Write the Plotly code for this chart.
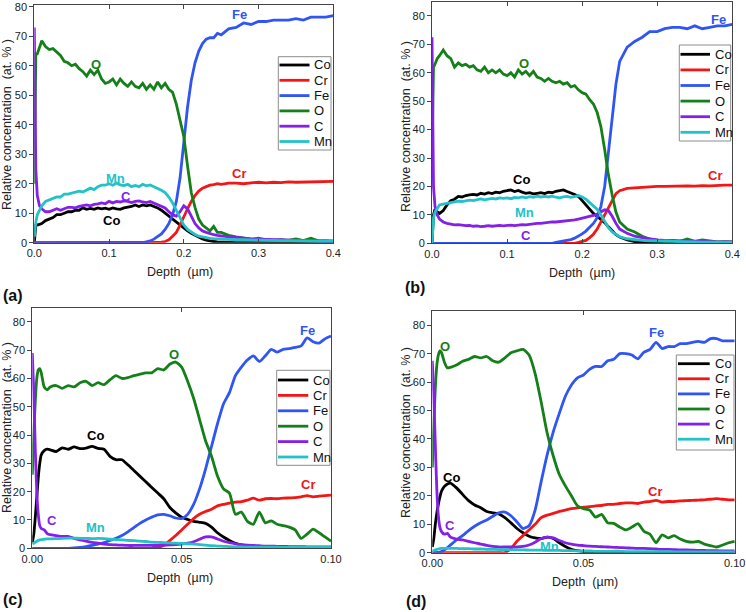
import plotly.graph_objects as go

# ---------------- data ----------------
ELEMENTS = ["Co", "Cr", "Fe", "O", "C", "Mn"]

# panel (a)
A_DEPTH = [0, 0.001, 0.002, 0.004, 0.007, 0.01, 0.015, 0.02,
           0.025, 0.03, 0.035, 0.04, 0.045, 0.05, 0.055, 0.06, 0.065, 0.07,
           0.075, 0.08, 0.085, 0.09, 0.095, 0.1, 0.105, 0.11, 0.115, 0.12,
           0.125, 0.13, 0.135, 0.14, 0.145, 0.15, 0.155, 0.16, 0.165, 0.17,
           0.175, 0.18, 0.185, 0.19, 0.195, 0.2, 0.205, 0.21, 0.215, 0.22,
           0.225, 0.23, 0.235, 0.24, 0.245, 0.25,
           0.26, 0.27, 0.28, 0.29, 0.3, 0.31, 0.32, 0.33, 0.34, 0.35,
           0.36, 0.37, 0.38, 0.39, 0.4]
A_O = [20, 55, 64, 64, 66, 68.5, 66.5, 65.5,
       65.8, 64.5, 63.5, 61.5, 61, 60, 60.5, 59, 58, 56.5,
       58.5, 57, 58.5, 55.5, 54, 54.5, 55.5, 53.5, 55.5, 54,
       53, 54.5, 53, 52.5, 54, 52, 53.5, 52, 54.5, 52.5,
       54, 52, 51, 47, 42, 36, 26, 17, 12, 8,
       6, 5, 4, 5.5, 3.5, 3.5,
       2.5, 2, 1.5, 1.2, 1.5, 1, 0.8, 1, 0.8, 1.3,
       0.7, 1.5, 0.6, 0.7, 0.5]
A_FE = [0, 0, 0, 0, 0, 0, 0, 0,
        0, 0, 0, 0, 0, 0, 0, 0, 0, 0,
        0, 0, 0, 0, 0, 0, 0, 0, 0, 0,
        0, 0, 0, 0, 0, 0.3, 0.6, 1.2, 2, 3,
        4.5, 6.5, 9.5, 14, 22, 34, 46, 55, 61, 65,
        67.5, 69, 69.5, 69.5, 71, 70.5,
        72.5, 73, 74.5, 74, 75, 75, 75.5, 75.5, 75.5, 76,
        75.5, 76.5, 76.5, 76.5, 77]
A_CR = [0, 0, 0, 0, 0, 0, 0, 0,
        0, 0, 0, 0, 0, 0, 0, 0, 0, 0,
        0, 0, 0, 0, 0, 0, 0, 0, 0, 0,
        0, 0, 0, 0, 0, 0, 0, 0, 0.1, 0.2,
        0.4, 1, 2.2, 3.5, 6, 9, 11.5, 14, 16, 17.5,
        18.5, 19, 19.5, 19.7, 20, 19.8,
        20.2, 20.2, 20, 20.3, 20.5, 20.3, 20.5, 20.4, 20.6, 20.5,
        20.6, 20.7, 20.6, 20.8, 20.8]
A_CO = [0, 4, 6, 6, 6.3, 6.5, 7.5, 8,
        8.5, 9.5, 9.5, 10, 10.5, 10.5, 11, 11, 11.8, 11.3,
        11.6, 11.3, 11.8, 11.5, 11.7, 11.3, 11.8, 11.5, 11.3, 11.8,
        12, 12.3, 12.8, 12.3, 12.8, 12.5, 12.8, 12.3, 11.8, 11,
        10, 9, 8, 7, 5.8, 5, 4, 3.2, 2.5, 1.8,
        1.3, 0.9, 0.6, 0.4, 0.3, 0.2,
        0.1, 0, 0, 0, 0, 0, 0, 0, 0, 0,
        0, 0, 0, 0, 0]
A_MN = [2, 5, 7, 9.5, 11, 12.5, 14, 14.5,
        15, 15.5, 15.5, 16.5, 16.5, 16.8, 17, 17.5, 17.2, 18,
        18.5, 18, 19, 19.5, 19.5, 20, 19.5, 20.2, 19.6, 19.4,
        19.8, 19, 19.4, 19, 19.8, 19.3, 19.6, 19, 18.5, 17.8,
        17, 15.5, 13.5, 11, 8.5, 6, 4.5, 3.5, 2.8, 2.2,
        1.9, 1.7, 1.5, 1.4, 1.3, 1.2,
        1.1, 1, 1, 0.9, 0.9, 0.8, 0.8, 0.7, 0.7, 0.6,
        0.6, 0.5, 0.5, 0.5, 0.5]
A_C = [73, 45, 25, 16, 12.5, 11.5, 10.5, 10.5,
       11, 11.5, 11, 11.5, 12, 12, 11.8, 12.3, 12.5, 12.8,
       12.5, 13, 13.2, 13.5, 13.2, 14, 13.5, 14, 13.8, 14.2,
       14, 13.6, 14, 14.2, 13.8, 13.6, 14, 13.5, 13, 12.5,
       11.8, 10.5, 9.5, 9, 10.5, 12.5, 11.5, 9, 6.5, 5,
       4, 3.5, 3, 2.7, 2.5, 2.3,
       2, 1.8, 1.5, 1.3, 1.2, 1.1, 1, 0.9, 0.8, 0.8,
       0.7, 0.6, 0.6, 0.5, 0.5]

# panel (b)
B_DEPTH = list(A_DEPTH)
B_O = [30, 55, 62, 63, 65, 66, 68, 66,
       65, 62, 63.5, 62.5, 63, 62, 62.5, 61, 60.5, 62,
       60, 61, 60, 61, 59.5, 59, 60, 58.5, 61, 59.5,
       60.5, 59, 60.5, 58.5, 58, 57, 58, 57, 56.5, 57,
       56, 56.5, 55, 55.5, 54, 53, 52.5, 50.5, 49, 46,
       41, 33, 24, 17, 11, 7.5,
       5, 4, 2.5, 1.5, 1.2, 0.8, 1, 0.7, 1.5, 0.7,
       1.2, 0.8, 0.5, 0.6, 0.5]
B_FE = [0, 0, 0, 0, 0, 0, 0, 0,
        0, 0, 0, 0, 0, 0, 0, 0, 0, 0,
        0, 0, 0, 0, 0, 0, 0, 0, 0, 0,
        0, 0, 0, 0, 0, 0, 0, 0, 0.3, 0.5,
        0.7, 1, 1.3, 1.8, 2.5, 3.3, 4.3, 5.5, 7, 9,
        13, 20, 32, 45, 56, 64,
        69, 71, 72.5, 74.5, 74.5, 75.5, 76, 76, 75.5, 76.5,
        75.5, 76, 76.5, 76.5, 77]
B_CR = [0, 0, 0, 0, 0, 0, 0, 0,
        0, 0, 0, 0, 0, 0, 0, 0, 0, 0,
        0, 0, 0, 0, 0, 0, 0, 0, 0, 0,
        0, 0, 0, 0, 0, 0, 0, 0, 0, 0,
        0, 0, 0, 0, 0.3, 0.6, 1, 2, 3.2, 5,
        7.5, 10, 13, 15.5, 17.5, 18.5,
        19.3, 19.5, 19.7, 19.8, 20, 20, 20.1, 20, 20.2, 20.1,
        20.3, 20.2, 20.4, 20.5, 20.5]
B_CO = [0, 6, 10, 12, 11, 10.5, 11.5, 13.5,
        15, 15.5, 16.5, 16.3, 16.8, 17, 17.2, 17, 17.6, 17.3,
        17.8, 17.5, 18, 17.8, 18.3, 18.5, 18.8, 18.2, 18.6, 18,
        17.6, 17.8, 17.4, 17.6, 17.8, 17.5, 18, 17.8, 18.3, 18.5,
        18.8, 18.2, 17.8, 17.2, 16.5, 15, 13.5, 12, 10.5, 9.5,
        8.5, 7.3, 5.8, 4.3, 3, 2.2,
        1.2, 0.6, 0.3, 0.1, 0, 0, 0, 0, 0, 0,
        0, 0, 0, 0, 0]
B_MN = [0, 5, 9, 11, 12.5, 13.5, 13.8, 14,
        14.3, 14.5, 14.8, 14.7, 15, 15.2, 15, 15.4, 15.6, 15.3,
        15.6, 15.8, 15.6, 16, 15.8, 16, 15.7, 16.1, 16, 16.3,
        16, 16.4, 16.2, 16.6, 16.3, 16.5, 16.3, 16.6, 16.2, 16,
        16.3, 16.5, 16.2, 16.6, 16.8, 16.3, 15.5, 14.3, 13.2, 12,
        10, 7.5, 5.5, 4, 3, 2.3,
        1.6, 1.2, 1, 0.9, 0.8, 0.7, 0.6, 0.6, 0.5, 0.5,
        0.4, 0.4, 0.4, 0.3, 0.3]
B_C = [72.5, 40, 20, 13, 10, 8.5, 7.5, 7,
       6.8, 6.5, 6.6, 6.3, 6.2, 6.3, 6, 6.1, 5.9, 6,
       6.2, 6, 6.1, 6.3, 6.1, 6.2, 6.4, 6.2, 6.4, 6.6,
       6.5, 6.7, 6.8, 7, 7, 7.2, 7.2, 7.5, 7.5, 7.6,
       7.8, 7.8, 8, 8.2, 8.5, 8.8, 9, 9.3, 9.8, 10.3,
       11, 11.8, 11.5, 9.5, 7, 5,
       3.5, 2.5, 2, 1.5, 1.2, 1, 0.9, 0.8, 0.7, 0.7,
       0.6, 0.6, 0.5, 0.5, 0.5]

# panel (c)
C_DEPTH = [0, 0.0005, 0.001, 0.0015, 0.002, 0.0025, 0.003, 0.004, 0.005, 0.006,
           0.008, 0.010, 0.012, 0.014, 0.016, 0.018, 0.020, 0.022, 0.024, 0.026,
           0.028, 0.030, 0.032, 0.034, 0.036, 0.038, 0.040, 0.042, 0.044, 0.046,
           0.048, 0.050, 0.052, 0.054, 0.056, 0.058, 0.060, 0.062, 0.064, 0.066,
           0.068, 0.070, 0.072, 0.074, 0.076, 0.078, 0.080, 0.082, 0.084, 0.086,
           0.088, 0.090, 0.092, 0.094, 0.096, 0.098, 0.100]
C_O = [26, 40, 52, 60, 63, 63.5, 62, 57, 56, 57,
       57.5, 56.5, 57.5, 57, 58.5, 59, 57.5, 58.5, 57.8, 59.5,
       61, 60, 60.3, 61, 61.5, 62, 62, 63.5, 63, 65,
       65.8, 64, 59, 53, 45.5, 38, 32.5, 25.5, 21, 19.5,
       12, 12.8, 9.5, 8.5, 12.8, 9, 9.7, 8.5, 8, 7.5,
       6.5, 3.5, 5, 6.8, 5.5, 4, 2.5]
C_FE = [0, 0, 0, 0, 0, 0, 0, 0, 0, 0,
        0, 0, 0, 0.1, 0.3, 0.6, 1, 1.5, 2, 2.8,
        3.5, 4.5, 5.8, 7.3, 8.8, 10, 11, 11.8, 12, 11.5,
        10.7, 10.5, 12, 15.5, 21, 28, 36, 44, 51, 55,
        61, 64, 66.5, 68, 66, 68, 70.3, 69.3, 70.3, 70.5,
        71, 71.5, 74.3, 73, 72.5, 74, 75]
C_CR = [0, 0, 0, 0, 0, 0, 0, 0, 0, 0,
        0, 0, 0, 0, 0, 0, 0, 0, 0, 0,
        0, 0, 0, 0, 0, 0, 0, 0.3, 1, 2.7,
        4.5, 6.5, 8.5, 10.5, 12, 13, 13.8, 15, 15.5, 16,
        16.3, 16.5, 17, 17.7, 17, 17.5, 17.6, 17.5, 17.7, 17.8,
        17.9, 18.2, 18.6, 18.2, 18.4, 18.6, 18.8]
C_CO = [2, 5, 11, 18, 25, 30, 33, 34.5, 35, 34.8,
        34.2, 35.5, 35, 35.8, 35.2, 35.4, 36, 35.3, 35, 32.5,
        31.3, 31.3, 29.5, 27.5, 25.5, 23.5, 21.5, 19.5, 17.5, 14.5,
        12.5, 11, 10.2, 9.5, 9.2, 8.8, 7.5, 5.5, 4, 2.8,
        1.8, 1.2, 0.8, 0.5, 0.3, 0.2, 0.1, 0, 0, 0,
        0, 0, 0, 0, 0, 0, 0]
C_C = [69, 55, 35, 20, 12, 8, 7, 6.5, 5.2, 4.8,
       4.5, 4.2, 4.2, 3.5, 3, 2.5, 2.1, 1.8, 1.5, 1.3,
       1.2, 1.1, 1, 1, 1, 1, 1, 1, 1.1, 1.2,
       1.3, 1.5, 1.8, 2.3, 3.2, 4, 4, 3.3, 2.5, 2,
       1.6, 1.3, 1.1, 1, 0.9, 0.8, 0.8, 0.7, 0.7, 0.6,
       0.6, 0.6, 0.5, 0.5, 0.5, 0.5, 0.5]
C_MN = [1.5, 1.8, 2.2, 2.5, 2.8, 3, 3.1, 3.2, 3.3, 3.3,
        3.4, 3.5, 3.6, 3.6, 3.5, 3.5, 3.4, 3.5, 3.4, 3.2,
        3.1, 3, 2.8, 2.7, 2.5, 2.4, 2.2, 2.1, 2, 1.9,
        1.8, 1.7, 1.6, 1.5, 1.3, 1.1, 0.9, 0.8, 0.7, 0.6,
        0.5, 0.5, 0.4, 0.4, 0.4, 0.4, 0.4, 0.4, 0.3, 0.3,
        0.3, 0.3, 0.3, 0.3, 0.3, 0.3, 0.3]

# panel (d)
D_DEPTH = list(C_DEPTH)
D_O = [30, 45, 58, 66, 69.5, 71, 70.5, 67, 65, 65.2,
       66, 67.3, 68, 69, 68.5, 69, 67.5, 67, 68.5, 70.3,
       71, 71.5, 69.5, 63, 53, 42, 34, 27.5, 23.5, 20,
       16.5, 15.5, 15, 12.5, 13.5, 10.5, 10.3, 9, 8, 9,
       10.2, 7.5, 6.5, 3.5, 6.3, 5.2, 6, 4.8, 4, 3.7,
       4, 3, 2.5, 2, 2.7, 3.5, 4]
D_FE = [0, 0, 0, 0, 0, 0.2, 0.4, 1, 1.8, 2.7,
        4.5, 6, 7.8, 9.3, 10.5, 11.5, 12.8, 14, 14.3, 13,
        10.8, 8.5, 9.5, 15, 25, 34.5, 42.5, 49, 55, 59,
        61.5, 62.5, 64.5, 65.5, 65.5, 67.5, 68, 70, 70, 69.5,
        68.2, 70.5, 71.5, 74, 71.8, 72.5, 72.5, 73.5, 73.5, 74,
        74.3, 74, 75.3, 75.3, 74.5, 74.5, 74.5]
D_CR = [0, 0, 0, 0, 0, 0, 0, 0, 0, 0,
        0, 0, 0, 0, 0, 0, 0, 0, 0, 1.5,
        4, 6, 8, 10, 12.3, 13.2, 13.8, 14.5, 15, 15.5,
        15.8, 16, 16.2, 16.5, 16.6, 17, 17, 17.3, 17.5, 17.5,
        17.3, 17.8, 18, 18.4, 17.8, 18, 18, 18.2, 18.3, 18.4,
        18.5, 18.6, 18.8, 19, 18.8, 18.6, 18.6]
D_CO = [2, 5, 10, 14, 17, 19.5, 21.5, 23.3, 24.2, 24.5,
        22.8, 20.5, 18.3, 16.8, 15.8, 14.5, 14, 13.6, 12.3, 10.5,
        8.5, 7, 5.8, 5.2, 5, 5.5, 5, 3.5, 2.2, 1.2,
        0.7, 0.4, 0.3, 0.2, 0.1, 0, 0, 0, 0, 0,
        0, 0, 0, 0, 0, 0, 0, 0, 0, 0,
        0, 0, 0, 0, 0, 0, 0]
D_C = [67.5, 55, 38, 22, 13, 9, 7.5, 6.5, 6.8, 5.5,
       4.8, 4.5, 4, 3.5, 3, 2.6, 2.2, 2, 2, 2,
       2, 2.2, 2.7, 3.7, 5, 5.5, 5.2, 4.3, 3.5, 3,
       2.7, 2.5, 2.3, 2.2, 2.1, 2, 1.9, 1.8, 1.7, 1.6,
       1.5, 1.5, 1.4, 1.3, 1.2, 1.2, 1.1, 1, 1, 0.9,
       0.8, 0.8, 0.7, 0.7, 0.6, 0.6, 0.6]
D_MN = [0.5, 0.8, 1, 1.2, 1.3, 1.4, 1.5, 1.5, 1.5, 1.5,
        1.5, 1.4, 1.4, 1.3, 1.3, 1.2, 1.2, 1.1, 1.1, 1,
        1, 1, 0.9, 0.9, 0.9, 0.8, 0.8, 0.8, 0.7, 0.7,
        0.6, 0.6, 0.6, 0.5, 0.5, 0.5, 0.5, 0.5, 0.4, 0.4,
        0.4, 0.4, 0.4, 0.4, 0.4, 0.4, 0.3, 0.3, 0.3, 0.3,
        0.3, 0.3, 0.3, 0.3, 0.3, 0.3, 0.3]

X_TICKS_WIDE = [0.0, 0.1, 0.2, 0.3, 0.4]
X_TICKS_NARROW = [0.00, 0.05, 0.10]
Y_TICK_STEP = 10

# ---------------- styling / layout ----------------
W, H = 746, 612
COLORS = {"Co": "#000000", "Cr": "#f21616", "Fe": "#2f55f5",
          "O": "#15801a", "C": "#8420e8", "Mn": "#22c2c8"}
FONT = "Arial, 'Liberation Sans', Helvetica, sans-serif"


def px(x):
    return x / W


def py(y):
    return 1 - y / H


panels = [
    dict(tag="(a)", depth=A_DEPTH,
         series={"Co": A_CO, "Cr": A_CR, "Fe": A_FE, "O": A_O, "C": A_C, "Mn": A_MN},
         xdom=[34.3, 333.3], ydom=[242.7, 5.0], ytop=80.6, xtop=0.4,
         xticks=X_TICKS_WIDE, fmt="%.1f", shape="linear",
         labels={"Fe": (0.274, 77.4), "O": (0.083, 60.4), "Mn": (0.109, 21.7),
                 "C": (0.123, 15.5), "Co": (0.103, 7.6), "Cr": (0.274, 23.4)},
         ytitle=(7, 125), xtitle=(180, 272), tagpos=(13, 295),
         legend=dict(box=(278.3, 331, 56.7, 150), y0=65, dy=15.3, lx=(279.5, 309.5), tx=311.5)),
    dict(tag="(b)", depth=B_DEPTH,
         series={"Co": B_CO, "Cr": B_CR, "Fe": B_FE, "O": B_O, "C": B_C, "Mn": B_MN},
         xdom=[432.0, 732.3], ydom=[243.3, 1.7], ytop=85, xtop=0.4,
         xticks=X_TICKS_WIDE, fmt="%.1f", shape="linear",
         labels={"Fe": (0.381, 78.6), "O": (0.123, 63.1), "Co": (0.119, 22.6),
                 "Mn": (0.123, 11.0), "C": (0.125, 2.7), "Cr": (0.377, 23.7)},
         ytitle=(406, 127), xtitle=(582, 273), tagpos=(415, 287),
         legend=dict(box=(679.3, 730.7, 45, 141), y0=54.3, dy=15.6, lx=(680.5, 710), tx=712.5)),
    dict(tag="(c)", depth=C_DEPTH,
         series={"Co": C_CO, "Cr": C_CR, "Fe": C_FE, "O": C_O, "C": C_C, "Mn": C_MN},
         xdom=[32.3, 331.0], ydom=[548.3, 307.7], ytop=85, xtop=0.1,
         xticks=X_TICKS_NARROW, fmt="%.2f", shape="spline",
         labels={"Fe": (0.0922, 77.1), "O": (0.0474, 68.5), "Co": (0.021, 40.0),
                 "Cr": (0.0922, 22.4), "C": (0.0067, 9.7), "Mn": (0.021, 7.5)},
         ytitle=(7, 428), xtitle=(180, 578), tagpos=(13, 599),
         legend=dict(box=(276.7, 330, 370.3, 465.3), y0=380, dy=15.4, lx=(278, 308.3), tx=310.5)),
    dict(tag="(d)", depth=D_DEPTH,
         series={"Co": D_CO, "Cr": D_CR, "Fe": D_FE, "O": D_O, "C": D_C, "Mn": D_MN},
         xdom=[432.3, 734.7], ydom=[552.7, 311.0], ytop=85, xtop=0.1,
         xticks=X_TICKS_NARROW, fmt="%.2f", shape="spline",
         labels={"Fe": (0.0743, 77.5), "O": (0.0043, 72.4), "Co": (0.0063, 26.6),
                 "Cr": (0.0738, 21.4), "C": (0.006, 9.4), "Mn": (0.0386, 2.1)},
         ytitle=(406, 433), xtitle=(585, 582), tagpos=(416, 601),
         legend=dict(box=(676.3, 734, 355, 450), y0=363.7, dy=15.1, lx=(678, 709.7), tx=713)),
]

fig = go.Figure()
layout = dict(width=W, height=H, margin=dict(l=0, r=0, t=0, b=0, autoexpand=False),
              paper_bgcolor="white", plot_bgcolor="white", showlegend=False,
              font=dict(family=FONT, color="#222"))
annotations = []
shapes = []

for i, p in enumerate(panels, start=1):
    xa = "x" if i == 1 else f"x{i}"
    ya = "y" if i == 1 else f"y{i}"
    for el in ELEMENTS:
        vals = p["series"][el]
        if len(vals) != len(p["depth"]):
            raise ValueError(f"{p['tag']} {el}: {len(vals)} vs {len(p['depth'])}")
        fig.add_trace(go.Scatter(
            x=p["depth"], y=vals, mode="lines", name=el, xaxis=xa, yaxis=ya,
            line=dict(color=COLORS[el], width=2.8, shape=p["shape"],
                      smoothing=0.6 if p["shape"] == "spline" else None),
            hoverinfo="skip"))

    xd = [px(p["xdom"][0]), px(p["xdom"][1])]
    yd = [py(p["ydom"][0]), py(p["ydom"][1])]
    layout[f"xaxis{'' if i == 1 else i}"] = dict(
        domain=xd, anchor=ya, range=[0, p["xtop"]], automargin=False,
        tickvals=p["xticks"], ticktext=[p["fmt"] % v for v in p["xticks"]],
        ticks="inside", ticklen=4, tickcolor="#444", mirror="ticks",
        ticklabeloverflow="allow",
        showline=True, linecolor="#444", linewidth=1, showgrid=False, zeroline=False,
        tickfont=dict(size=11, color="#222"))
    layout[f"yaxis{'' if i == 1 else i}"] = dict(
        domain=yd, anchor=xa, range=[0, p["ytop"]], automargin=False,
        tickmode="linear", tick0=0, dtick=Y_TICK_STEP,
        ticks="outside", ticklen=4, tickcolor="#444", mirror=True,
        ticklabeloverflow="allow",
        showline=True, linecolor="#444", linewidth=1, showgrid=False, zeroline=False,
        tickfont=dict(size=11, color="#222"))
    # right-hand inward ticks
    layout[f"yaxis{i + 4}"] = dict(
        overlaying=ya, side="right", anchor=xa, range=[0, p["ytop"]],
        tickmode="linear", tick0=0, dtick=Y_TICK_STEP,
        ticks="inside", ticklen=4, tickcolor="#444", showticklabels=False, automargin=False,
        showline=False, showgrid=False, zeroline=False)

    # curve labels
    for el, (lx, ly) in p["labels"].items():
        annotations.append(dict(x=lx, y=ly, xref=xa, yref=ya, text=f"<b>{el}</b>",
                                xanchor="center", yanchor="middle",
                                showarrow=False, font=dict(size=13, color=COLORS[el])))
    # axis titles
    annotations.append(dict(x=px(p["ytitle"][0]), y=py(p["ytitle"][1]), xref="paper", yref="paper",
                            text="Relative concentration  (at. % )", textangle=-90,
                            xanchor="center", yanchor="middle",
                            showarrow=False, font=dict(size=12.5, color="#222")))
    annotations.append(dict(x=px(p["xtitle"][0]), y=py(p["xtitle"][1]), xref="paper", yref="paper",
                            text="Depth  (µm)", xanchor="center", yanchor="middle",
                            showarrow=False, font=dict(size=12.5, color="#222")))
    annotations.append(dict(x=px(p["tagpos"][0]), y=py(p["tagpos"][1]), xref="paper", yref="paper",
                            text=f"<b>{p['tag']}</b>", xanchor="center", yanchor="middle",
                            showarrow=False, font=dict(size=16, color="#111")))

    # legend box
    lg = p["legend"]
    bx0, bx1, by0, by1 = lg["box"]
    shapes.append(dict(type="rect", xref="paper", yref="paper", layer="above",
                       x0=px(bx0), x1=px(bx1), y0=py(by1), y1=py(by0),
                       fillcolor="white", line=dict(color="#8c8c8c", width=1)))
    for k, el in enumerate(ELEMENTS):
        yy = lg["y0"] + k * lg["dy"]
        shapes.append(dict(type="line", xref="paper", yref="paper", layer="above",
                           x0=px(lg["lx"][0]), x1=px(lg["lx"][1]), y0=py(yy), y1=py(yy),
                           line=dict(color=COLORS[el], width=2.8)))
        annotations.append(dict(x=px(lg["tx"]), y=py(yy), xref="paper", yref="paper",
                                text=el, xanchor="left", yanchor="middle", showarrow=False,
                                font=dict(size=13, color="#111")))

layout["annotations"] = annotations
layout["shapes"] = shapes
fig.update_layout(**layout)
fig.write_html("out.html")
